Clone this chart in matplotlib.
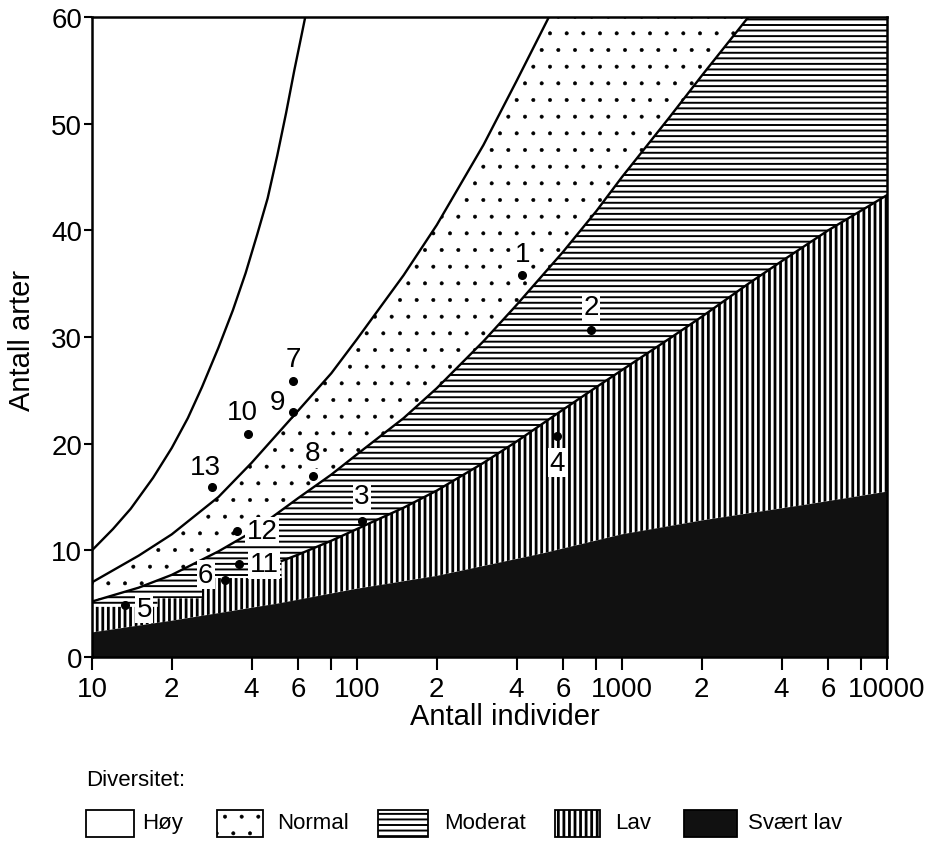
import matplotlib
matplotlib.use("Agg")
import matplotlib.pyplot as plt
from matplotlib.patches import Rectangle

plt.rcParams['font.family'] = ['Liberation Sans', 'DejaVu Sans']

# boundary curves: number of individuals -> number of species
n_max = [10, 12, 14, 17, 20, 23, 26, 30, 34, 38, 42, 46, 50, 54, 58, 62, 65]
s_max = [10, 12, 13.9, 16.8, 19.6, 22.4, 25.3, 29, 32.5, 36, 39.6, 43, 47, 51, 55, 58.5, 61]

n_high = [10, 15, 20, 30, 40, 60, 80, 100, 150, 200, 300, 400, 530]
s_high = [7, 9.5, 11.5, 15, 18.2, 23.1, 26.6, 29.8, 35.8, 40.5, 48, 54, 60]

n_normal = [10, 15, 20, 30, 40, 60, 80, 100, 150, 200, 300, 400, 600, 800, 1000, 1500, 2000, 3000]
s_normal = [5.2, 6.5, 7.7, 9.9, 11.7, 14.9, 17.1, 19, 22.4, 25.2, 29.6, 33, 38, 41.8, 45, 50.5, 54.5, 60]

# lower edge of "moderat" (stepped at the far left, then the curve)
n_mod = [10, 17.7, 17.7, 26, 26, 52, 52, 60, 80, 100, 150, 200, 300, 400, 600, 800, 1000, 1500, 2000, 3000, 4000, 6000, 10000]
s_mod = [4.7, 4.7, 5.5, 5.5, 7.4, 7.4, 9.0, 9.6, 10.9, 12.0, 14.0, 15.6, 18.2, 20.2, 23.2, 25.3, 26.9, 29.8, 31.9, 35.0, 37.1, 40.0, 43.3]

n_low = [10, 20, 50, 100, 200, 500, 1000, 2000, 5000, 10000]
s_low = [2.3, 3.4, 5.0, 6.4, 7.6, 9.7, 11.5, 12.8, 14.3, 15.5]

# sampling sites
site_labels = ['1', '2', '3', '4', '5', '6', '7', '8', '9', '10', '11', '12', '13']
site_n = [420, 764, 104.5, 569, 13.3, 31.8, 57.3, 68.2, 57.3, 38.8, 35.9, 35.3, 28.4]
site_s = [35.8, 30.7, 12.75, 20.7, 4.9, 7.2, 25.9, 17.0, 23.0, 20.9, 8.7, 11.8, 15.9]

xtick_vals = [10, 20, 40, 60, 80, 100, 200, 400, 600, 800, 1000, 2000, 4000, 6000, 8000, 10000]
xtick_text = ['10', '2', '4', '6', '', '100', '2', '4', '6', '', '1000', '2', '4', '6', '', '10000']

legend_names = ['Høy', 'Normal', 'Moderat', 'Lav', 'Svært lav']

W, H = 938, 845
fig = plt.figure(figsize=(W / 100, H / 100), dpi=100)
ax = fig.add_axes([92 / W, 1 - 658 / H, (887 - 92) / W, (658 - 18) / H])
ax.set_xscale('log')

# hatch line widths per pattern
hatch_lw = {'.': 0.4, '---': 1.4, '|||': 2.0}

# filled zones
with plt.rc_context({'hatch.linewidth': hatch_lw['.']}):
    ax.fill(n_high + n_normal[::-1], s_high + s_normal[::-1],
            facecolor='white', edgecolor='black', hatch='.', linewidth=0)
with plt.rc_context({'hatch.linewidth': hatch_lw['---']}):
    ax.fill(n_normal + [10000] + n_mod[::-1], s_normal + [60] + s_mod[::-1],
            facecolor='white', edgecolor='black', hatch='---', linewidth=0)
with plt.rc_context({'hatch.linewidth': hatch_lw['|||']}):
    ax.fill(n_mod + n_low[::-1], s_mod + s_low[::-1],
            facecolor='white', edgecolor='black', hatch='|||', linewidth=0)
ax.fill(n_low + [10000, 10], s_low + [0, 0],
        facecolor='#111111', edgecolor='#111111', linewidth=0)

# boundary lines
lw = 1.7
ax.plot(n_max, s_max, color='black', lw=lw)
ax.plot(n_high, s_high, color='black', lw=lw)
ax.plot(n_normal, s_normal, color='black', lw=lw)
ax.plot(n_mod[6:], s_mod[6:], color='black', lw=lw)

# sites
ax.plot(site_n, site_s, 'o', color='black', ms=5.5, zorder=5)
offsets = [(0, 15), (0, 16), (0, 18), (0, -19), (14, -3), (-14, 4), (0, 16),
           (0, 16), (-11, 7), (-4, 16), (18, 0), (18, 0), (-5, 15)]
for lab, n, s, off in zip(site_labels, site_n, site_s, offsets):
    ax.annotate(lab, (n, s), xytext=off, textcoords='offset points',
                ha='center', va='center', fontsize=20, zorder=6,
                bbox=dict(boxstyle='square,pad=0.05', fc='white', ec='none'))

ax.set_xlim(10, 10000)
ax.set_ylim(0, 60)
ax.set_xticks(xtick_vals)
ax.set_xticklabels(xtick_text)
ax.xaxis.set_minor_locator(matplotlib.ticker.NullLocator())
ax.set_yticks([0, 10, 20, 30, 40, 50, 60])
ax.tick_params(axis='both', labelsize=20, width=1.5, direction='out')
ax.tick_params(axis='x', length=9, pad=5)
ax.tick_params(axis='y', length=6, pad=1)
for sp in ax.spines.values():
    sp.set_linewidth(1.8)

fig.text(505 / W, 1 - 717 / H, 'Antall individer', ha='center', va='center', fontsize=21)
fig.text(22 / W, 1 - 340 / H, 'Antall arter', ha='center', va='center',
         rotation=90, fontsize=21)

# legend drawn by hand
narrow = ['Liberation Sans Narrow', 'Liberation Sans', 'DejaVu Sans']
fig.text(86 / W, 1 - 780 / H, 'Diversitet:', ha='left', va='center',
         fontsize=16, family=narrow)
box_x = [86, 217, 378, 555, 684]
box_w = [48, 46, 50, 45, 53]
text_x = [142, 277, 444, 615, 748]
styles = [dict(facecolor='white', hatch=None),
          dict(facecolor='white', hatch='.'),
          dict(facecolor='white', hatch='---'),
          dict(facecolor='white', hatch='|||'),
          dict(facecolor='#111111', hatch=None)]
for name, bx, bw, tx, st in zip(legend_names, box_x, box_w, text_x, styles):
    with plt.rc_context({'hatch.linewidth': hatch_lw.get(st['hatch'], 1.0)}):
        fig.patches.append(Rectangle((bx / W, 1 - 838 / H), bw / W, 27 / H,
                                     transform=fig.transFigure, edgecolor='black',
                                     linewidth=1.3, **st))
    fig.text(tx / W, 1 - 824 / H, name, ha='left', va='center',
             fontsize=16, family=narrow)

fig.savefig('out.png', dpi=100)
